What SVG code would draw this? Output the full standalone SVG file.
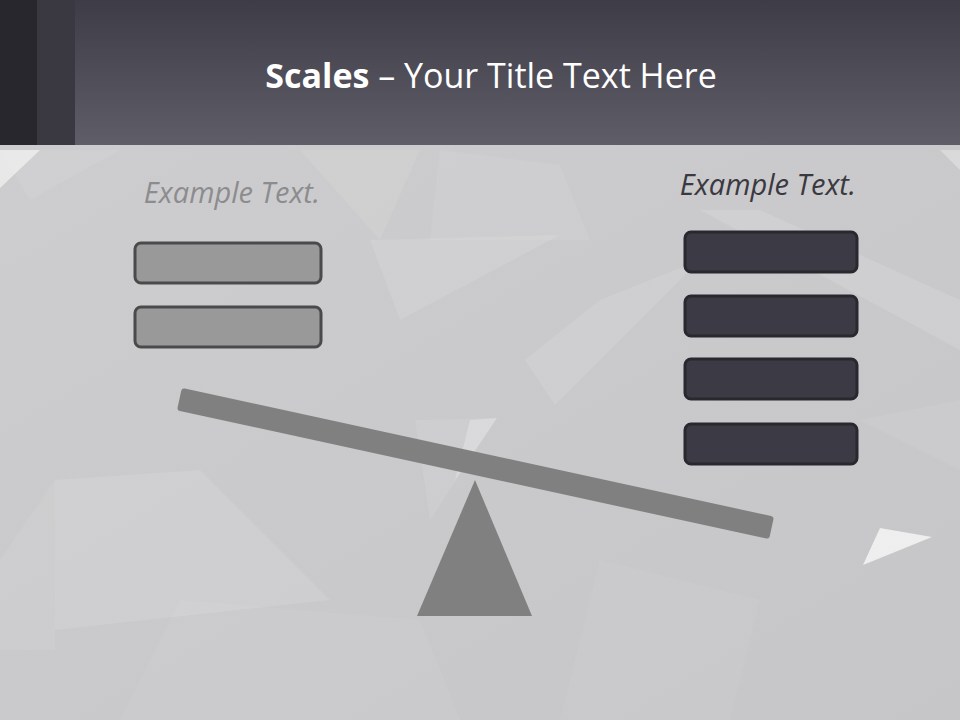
<svg xmlns="http://www.w3.org/2000/svg" width="960" height="720" viewBox="0 0 960 720">
  <defs>
    <linearGradient id="hdr" x1="0" y1="0" x2="0" y2="1">
      <stop offset="0" stop-color="#3e3c46"/>
      <stop offset="1" stop-color="#5f5d68"/>
    </linearGradient>
    <linearGradient id="bg" x1="0" y1="0" x2="1" y2="1">
      <stop offset="0" stop-color="#cdcdcf"/>
      <stop offset="1" stop-color="#c6c6c8"/>
    </linearGradient>
    <style>
      .lbl { font-family: "Open Sans", "Liberation Sans", sans-serif; font-style: italic; font-size: 29px; text-anchor: middle; }
      .lbox { fill: #999999; stroke: #4a4a4c; stroke-width: 3; }
      .rbox { fill: #3c3a44; stroke: #29282e; stroke-width: 3; }
      .facet { fill: #ffffff; }
      .shape { fill: #808080; }
    </style>
  </defs>

  <!-- background -->
  <rect x="0" y="145" width="960" height="575" fill="url(#bg)"/>
  <g id="facets">
    <polygon class="facet" opacity="0.55" points="0,150 40,150 0,188"/>
    <polygon class="facet" opacity="0.07" points="0,150 120,150 30,200"/>
    <polygon class="facet" opacity="0.08" points="300,150 420,150 380,240"/>
    <polygon class="facet" opacity="0.07" points="440,150 560,165 590,240 430,240"/>
    <polygon class="facet" opacity="0.1" points="370,240 560,235 400,320"/>
    <polygon class="facet" opacity="0.1" points="525,360 600,300 700,260 555,405"/>
    <polygon class="facet" opacity="0.12" points="700,210 760,210 960,300 960,350"/>
    <polygon class="facet" opacity="0.3" points="940,150 960,150 960,170"/>
    <polygon class="facet" opacity="0.25" points="455,480 497,418 470,420"/>
    <polygon class="facet" opacity="0.08" points="415,420 497,418 430,520"/>
    <polygon class="facet" opacity="0.1" points="55,480 200,470 330,600 55,630"/>
    <polygon class="facet" opacity="0.06" points="0,560 55,480 55,650 0,650"/>
    <polygon class="facet" opacity="0.05" points="600,560 760,600 730,720 560,720"/>
    <polygon class="facet" opacity="0.06" points="860,420 960,400 960,470"/>
    <polygon class="facet" opacity="0.7" points="880,528 932,537 863,565"/>
    <polygon class="facet" opacity="0.05" points="180,600 420,620 460,720 120,720"/>
  </g>

  <!-- header -->
  <g id="header">
    <rect x="0" y="0" width="960" height="145" fill="url(#hdr)"/>
    <rect x="0" y="0" width="37" height="145" fill="#28272d"/>
    <rect x="37" y="0" width="38" height="145" fill="#3a3941"/>
    <text x="491" y="88" font-family="'Open Sans', 'Liberation Sans', sans-serif" font-size="34" fill="#ffffff" text-anchor="middle"><tspan font-weight="bold">Scales</tspan> – Your Title Text Here</text>
  </g>

  <!-- left side -->
  <g id="left-label"><text class="lbl" x="232" y="203" fill="#8c8c8e">Example Text.</text></g>
  <g id="left-box-1"><rect class="lbox" x="135" y="243" width="186" height="40" rx="6"/></g>
  <g id="left-box-2"><rect class="lbox" x="135" y="307" width="186" height="40" rx="6"/></g>

  <!-- right side -->
  <g id="right-label"><text class="lbl" x="768" y="195" fill="#3a3941">Example Text.</text></g>
  <g id="right-box-1"><rect class="rbox" x="685" y="232" width="172" height="40" rx="6"/></g>
  <g id="right-box-2"><rect class="rbox" x="685" y="296" width="172" height="40" rx="6"/></g>
  <g id="right-box-3"><rect class="rbox" x="685" y="359" width="172" height="40" rx="6"/></g>
  <g id="right-box-4"><rect class="rbox" x="685" y="424" width="172" height="40" rx="6"/></g>

  <!-- scale -->
  <g id="fulcrum"><polygon class="shape" points="475,480 532,616 417,616"/></g>
  <g id="beam"><rect class="shape" x="-303" y="-11.5" width="606" height="23" rx="3" transform="translate(475.5,463.5) rotate(12.27)"/></g>
  <g id="connectors"></g>
</svg>
